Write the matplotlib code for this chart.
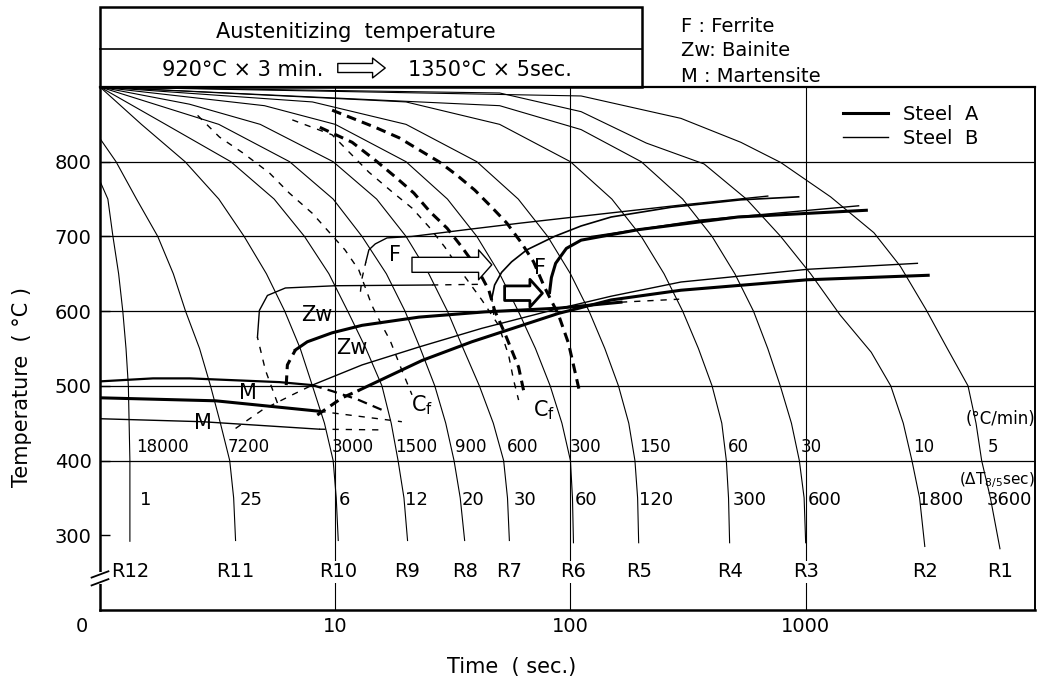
import matplotlib
matplotlib.use("Agg")
import matplotlib.pyplot as plt
from matplotlib.lines import Line2D
from matplotlib.patches import Rectangle, FancyArrowPatch
from matplotlib.transforms import ScaledTranslation

plt.rcParams['font.family'] = ['DejaVu Sans']
plt.rcParams['lines.scale_dashes'] = False
plt.rcParams['mathtext.default'] = 'regular'

# ---------------- data ----------------
curve_names = ["R12", "R11", "R10", "R9", "R8", "R7", "R6", "R5", "R4", "R3", "R2", "R1"]
rate_labels = ["18000", "7200", "3000", "1500", "900", "600", "300", "150", "60", "30", "10", "5"]
dt_labels = ["1", "25", "6", "12", "20", "30", "60", "120", "300", "600", "1800", "3600"]

# cooling curves (time s, temperature C)
r12_t = [1.0, 1.08, 1.135, 1.2, 1.25, 1.29, 1.32, 1.33, 1.34, 1.34, 1.34]
r12_T = [774, 750, 700, 650, 600, 550, 500, 450, 400, 350, 292]
r11_t = [1.0, 1.17, 1.43, 1.76, 2.05, 2.31, 2.65, 2.95, 3.25, 3.56, 3.7, 3.77]
r11_T = [831, 800, 750, 700, 650, 600, 550, 500, 450, 400, 350, 293]
r10_t = [1.0, 1.5, 2.3, 3.2, 4.1, 5.1, 6.1, 7.1, 8.0, 9.0, 9.8, 10.1, 10.3]
r10_T = [900, 850, 800, 750, 700, 650, 600, 550, 500, 450, 400, 350, 293]
r9_t = [1.0, 1.9, 3.6, 5.5, 7.4, 9.4, 11.3, 13.5, 15.8, 17.3, 18.5, 19.6, 20.3]
r9_T = [900, 850, 800, 750, 700, 650, 600, 550, 500, 450, 400, 350, 293]
r8_t = [1.0, 3.2, 6.4, 9.8, 13, 16.5, 19.8, 23, 26.5, 29.5, 32, 34, 35.5]
r8_T = [900, 850, 800, 750, 700, 650, 600, 550, 500, 450, 400, 350, 293]
r7_t = [1.0, 2.4, 4.8, 9.8, 15, 20, 25, 30, 35, 41, 47, 52, 54, 55]
r7_T = [900, 877, 850, 800, 750, 700, 650, 600, 550, 500, 450, 400, 350, 293]
r6_t = [1.0, 5, 10, 20, 30, 40, 50, 60, 71, 82, 92, 100, 102, 103]
r6_T = [900, 875, 850, 800, 750, 700, 650, 600, 550, 500, 450, 400, 350, 290]
r5_t = [1.0, 8, 20, 40, 60, 80, 100, 120, 140, 160, 177, 188, 193, 195]
r5_T = [900, 880, 850, 800, 750, 700, 650, 600, 550, 500, 450, 400, 350, 290]
r4_t = [1.0, 20, 50, 100, 150, 200, 250, 300, 350, 400, 440, 460, 470, 475]
r4_T = [900, 880, 850, 800, 750, 700, 650, 600, 550, 500, 450, 400, 350, 290]
r3_t = [1.0, 50, 111, 200, 300, 400, 500, 600, 690, 780, 870, 940, 985, 1000]
r3_T = [900, 875, 843, 800, 750, 700, 650, 600, 550, 500, 450, 400, 350, 290]
r2_t = [1.0, 50, 111, 210, 370, 560, 783, 1050, 1400, 1900, 2300, 2600, 2830, 3050, 3210]
r2_T = [900, 892, 867, 825, 797, 750, 700, 650, 595, 545, 500, 450, 400, 350, 285]
r1_t = [1.0, 111, 295, 530, 783, 1276, 1950, 2527, 3250, 4000, 4900, 5300, 5600, 6100, 6700]
r1_T = [900, 888, 858, 826, 799, 753, 705, 660, 602, 550, 500, 450, 400, 350, 282]

cool_t = [r12_t, r11_t, r10_t, r9_t, r8_t, r7_t, r6_t, r5_t, r4_t, r3_t, r2_t, r1_t]
cool_T = [r12_T, r11_T, r10_T, r9_T, r8_T, r7_T, r6_T, r5_T, r4_T, r3_T, r2_T, r1_T]

# transformation lines -- Steel A (thick) / Steel B (thin)
fb1_dash_t = [12.8, 13.0, 13.5]
fb1_dash_T = [626, 644, 666]
fb1_t = [13.5, 13.9, 14.8, 16.6, 21.2, 38.1, 62.0, 111, 295, 690]
fb1_T = [666, 682, 690, 698, 700, 710, 718, 727, 742, 754]
fb2_dash_t = [47.2, 46.3]
fb2_dash_T = [595, 617]
fb2_t = [46.3, 47.6, 51, 56.2, 65.2, 85.5, 111, 149, 268, 530, 933]
fb2_T = [617, 635, 652, 666, 682, 700, 714, 726, 739, 749, 753]
fa_t = [81.5, 83, 86.5, 96.1, 111, 194, 515, 1811]
fa_T = [625, 645, 664, 684, 695, 709, 726, 735]
fx_t = [123, 359, 1679]
fx_T = [700, 722, 741]

zwb_dash1_t = [5.68, 5.05, 4.67]
zwb_dash1_T = [477, 521, 565]
zwb_t = [4.67, 4.76, 5.15, 6.14, 10, 25.8]
zwb_T = [565, 601, 621, 631, 634, 635]
zwb_dash2_t = [25.8, 43.2]
zwb_dash2_T = [635, 636]

zwa_dash1_t = [6.19, 6.26, 6.77]
zwa_dash1_T = [501, 528, 548]
zwa_t = [6.77, 7.61, 9.7, 13.0, 22.7, 43.2, 89, 164]
zwa_T = [548, 559, 571, 581, 592, 599, 604, 612]
zwa_dash2_t = [164, 290]
zwa_dash2_T = [612, 616]

zfb_dash_t = [3.77, 4.91, 6.57, 7.99]
zfb_dash_T = [443, 468, 488, 501]
zfb_t = [7.99, 13.0, 22.7, 42, 83, 149, 295, 1018, 2985]
zfb_T = [501, 528, 552, 577, 601, 620, 639, 656, 664]

zfa_dash_t = [8.39, 10.7, 12.6]
zfa_dash_T = [461, 484, 494]
zfa_t = [12.6, 23.4, 38.1, 89, 149, 295, 1018, 3318]
zfa_T = [494, 534, 559, 597, 615, 628, 642, 648]

m1_t = [1.0, 1.68, 2.41, 5.8, 7.99]
m1_T = [506, 510, 510, 505, 501]
m1_dash_t = [7.99, 9.7, 12.4, 16.3]
m1_dash_T = [501, 493, 482, 466]
m2_t = [1.0, 3.1, 8.56]
m2_T = [484, 480, 466]
m2_dash_t = [8.56, 19.2]
m2_dash_T = [466, 452]
m3_t = [1.0, 2.73, 8.56]
m3_T = [456, 452, 442]
m3_dash_t = [8.56, 16.3]
m3_dash_T = [442, 441]

# critical cooling curves (dashed)
da1_t = [9.7, 14.8, 18.7, 22.7, 27.6, 32.9, 39.2, 46.3, 53.6, 62, 69.7, 77.6, 89, 98.1, 109]
da1_T = [869, 846, 832, 816, 800, 782, 762, 739, 718, 691, 666, 632, 595, 557, 494]
da2_t = [8.6, 11.8, 14.8, 17.96, 21.6, 25.3, 29.9, 34.5, 40, 45, 47.6, 52.5, 60.2, 63.8]
da2_T = [846, 826, 802, 780, 758, 733, 711, 686, 658, 628, 601, 571, 525, 488]
db1_t = [6.57, 9.7, 13.9, 17.4, 21.2, 25, 29.2, 35.6, 42, 49.5, 54.6, 57.3, 60.2]
db1_T = [856, 836, 786, 760, 738, 713, 686, 646, 615, 581, 541, 508, 481]
db2_t = [2.6, 3.22, 4.04, 5.25, 6.38, 7.99, 11.0, 12.6, 13.3, 14.3, 15.8, 17.1, 19.2, 21.2]
db2_T = [862, 833, 812, 785, 758, 731, 682, 655, 635, 608, 581, 561, 521, 488]

# label positions (time) for the rate / delta-T rows
rate_x = [1.42, 3.48, 9.7, 17.96, 32.2, 53.6, 99, 196, 467, 952, 2870, 5950]
dt_x = [1.48, 3.92, 10.4, 19.8, 34.5, 57.3, 104, 196, 491, 1018, 3015, 5900]

# ---------------- figure ----------------
fig = plt.figure(figsize=(10.39, 6.80), dpi=100)
ax = fig.add_axes([100 / 1039, 70 / 680, 935 / 1039, 523 / 680])
ax.set_xscale('log')
ax.set_xlim(1, 9440)
ax.set_ylim(200, 900)

K = 'black'
THIN = 0.8
TB = 1.0
TA = 2.2
dA = (7, 4.5)
dB = (4.5, 5)

# grid
ax.hlines([400, 500, 600, 700, 800], 1, 9440, colors=K, lw=0.9, zorder=1)
ax.vlines([10, 100, 1000], 200, 900, colors=K, lw=0.8, zorder=1)

# cooling curves
for t, T in zip(cool_t, cool_T):
    ax.plot(t, T, color=K, lw=THIN, zorder=2)

def dline(t, T, lw, dashes):
    ln, = ax.plot(t, T, color=K, lw=lw, zorder=3)
    ln.set_dashes(dashes)
    return ln

# ferrite
dline(fb1_dash_t, fb1_dash_T, TB, dB)
ax.plot(fb1_t, fb1_T, color=K, lw=TB, zorder=3)
dline(fb2_dash_t, fb2_dash_T, TB, dB)
ax.plot(fb2_t, fb2_T, color=K, lw=1.2, zorder=3)
ax.plot(fa_t, fa_T, color=K, lw=TA, zorder=3)
ax.plot(fx_t, fx_T, color=K, lw=TB, zorder=3)

# bainite
dline(zwb_dash1_t, zwb_dash1_T, TB, dB)
ax.plot(zwb_t, zwb_T, color=K, lw=TB, zorder=3)
dline(zwb_dash2_t, zwb_dash2_T, TB, dB)
dline(zwa_dash1_t, zwa_dash1_T, TA, dA)
ax.plot(zwa_t, zwa_T, color=K, lw=TA, zorder=3)
dline(zwa_dash2_t, zwa_dash2_T, TB, dB)
dline(zfb_dash_t, zfb_dash_T, TB, dB)
ax.plot(zfb_t, zfb_T, color=K, lw=TB, zorder=3)
dline(zfa_dash_t, zfa_dash_T, TA, dA)
ax.plot(zfa_t, zfa_T, color=K, lw=TA, zorder=3)

# martensite
ax.plot(m1_t, m1_T, color=K, lw=1.6, zorder=3)
dline(m1_dash_t, m1_dash_T, 1.6, dA)
ax.plot(m2_t, m2_T, color=K, lw=TA, zorder=3)
dline(m2_dash_t, m2_dash_T, TB, dB)
ax.plot(m3_t, m3_T, color=K, lw=TB, zorder=3)
dline(m3_dash_t, m3_dash_T, TB, dB)

# critical cooling curves
dline(da1_t, da1_T, TA, dA)
dline(da2_t, da2_T, TA, dA)
dline(db1_t, db1_T, TB, dB)
dline(db2_t, db2_T, TB, dB)

# arrows
ax.annotate('', xy=(46.3, 662), xytext=(21.2, 662),
            arrowprops=dict(arrowstyle='simple,head_length=0.95,head_width=2.15,tail_width=1.08',
                            mutation_scale=10, fc='white', ec=K, lw=1.0, shrinkA=0, shrinkB=0),
            zorder=5)
ax.annotate('', xy=(76, 624), xytext=(52.5, 624),
            arrowprops=dict(arrowstyle='simple,head_length=0.9,head_width=2.0,tail_width=1.05',
                            mutation_scale=10, fc='white', ec=K, lw=2.0, shrinkA=0, shrinkB=0),
            zorder=5)

# phase labels
lab = dict(fontsize=15, ha='center', va='center', zorder=6)
ax.text(17.96, 675, 'F', **lab)
ax.text(74, 658, 'F', **lab)
ax.text(8.39, 595, 'Zw', **lab)
ax.text(11.8, 551, 'Zw', **lab)
ax.text(4.24, 490, 'M', **lab)
ax.text(2.73, 450, 'M', **lab)
ax.text(23.4, 474, r'C$_{\mathrm{f}}$', **lab)
ax.text(77.6, 468, r'C$_{\mathrm{f}}$', **lab)

# curve labels
for name, t in zip(curve_names, cool_t):
    ax.text(t[-1], 251, name, fontsize=14, ha='center', va='center',
            bbox=dict(fc='white', ec='none', pad=1.0), zorder=6)
for s, x in zip(rate_labels, rate_x):
    ax.text(x, 418, s, fontsize=12, ha='left', va='center', zorder=6)
for s, x in zip(dt_labels, dt_x):
    ax.text(x, 347, s, fontsize=13, ha='left', va='center', zorder=6)
ax.text(9440, 456, '(°C/min)', fontsize=12, ha='right', va='center', zorder=6)
ax.text(9440, 374, r'($\Delta T_{8/5}$sec)', fontsize=11, ha='right', va='center', zorder=6)

# legend
handles = [Line2D([], [], color=K, lw=TA, label='Steel  A'),
           Line2D([], [], color=K, lw=TB, label='Steel  B')]
ax.legend(handles=handles, loc='upper left', bbox_to_anchor=(0.795, 0.965),
          frameon=False, fontsize=14, handlelength=2.3, handletextpad=0.75,
          labelspacing=0.25, borderpad=0, borderaxespad=0)

# axes styling
ax.set_yticks([300, 400, 500, 600, 700, 800])
ax.set_yticklabels(['300', '400', '500', '600', '700', '800'])
ax.set_xticks([1, 10, 100, 1000])
ax.set_xticklabels(['0', '10', '100', '1000'])
ax.minorticks_off()
ax.tick_params(axis='y', direction='in', length=7, width=1, labelsize=14, pad=6)
ax.tick_params(axis='x', length=0, labelsize=14, pad=5)
zero_lbl = ax.get_xticklabels()[0]
zero_lbl.set_transform(zero_lbl.get_transform() +
                       ScaledTranslation(-0.18, 0, fig.dpi_scale_trans))
for side, w in (('left', 1.8), ('bottom', 1.8), ('top', 1.6), ('right', 1.4)):
    ax.spines[side].set_linewidth(w)

ax.text(-0.083, 0.426, 'Temperature  ( °C )', transform=ax.transAxes, rotation=90,
        fontsize=15, ha='center', va='center')
ax.text(0.44, -0.109, 'Time  ( sec.)', transform=ax.transAxes,
        fontsize=15, ha='center', va='center')

# axis break mark
ax.add_patch(Rectangle((-0.01, 0.05), 0.02, 0.022, transform=ax.transAxes,
                       fc='white', ec='none', clip_on=False, zorder=7))
for y0 in (0.047, 0.062):
    ax.plot([-0.009, 0.009], [y0, y0 + 0.012], transform=ax.transAxes,
            color=K, lw=1.3, clip_on=False, zorder=8)

# header box
x0, x1 = 100 / 1039, 642 / 1039
yb, ym, yt = 1 - 87 / 680, 1 - 49 / 680, 1 - 7 / 680
fig.add_artist(Rectangle((x0, yb), x1 - x0, yt - yb, transform=fig.transFigure,
                         fill=False, ec=K, lw=1.8))
fig.add_artist(Line2D([x0, x1], [ym, ym], transform=fig.transFigure, color=K, lw=1.2))
fig.text(356 / 1039, 1 - 32 / 680, 'Austenitizing  temperature', fontsize=15,
         ha='center', va='center')
fig.text(243 / 1039, 1 - 70 / 680, '920°C × 3 min.', fontsize=15, ha='center', va='center')
fig.text(408 / 1039, 1 - 70 / 680, '1350°C × 5sec.', fontsize=15, ha='left', va='center')
fig.add_artist(FancyArrowPatch((335 / 1039, 1 - 68 / 680), (388 / 1039, 1 - 68 / 680),
                               transform=fig.transFigure,
                               arrowstyle='simple,head_length=0.7,head_width=1.1,tail_width=0.5',
                               mutation_scale=13, fc='white', ec=K, lw=1.0))

# phase key
fig.text(681 / 1039, 1 - 27 / 680, 'F : Ferrite', fontsize=14, ha='left', va='center')
fig.text(681 / 1039, 1 - 51 / 680, 'Zw: Bainite', fontsize=14, ha='left', va='center')
fig.text(681 / 1039, 1 - 77 / 680, 'M : Martensite', fontsize=14, ha='left', va='center')

fig.savefig('out.png', dpi=100)
